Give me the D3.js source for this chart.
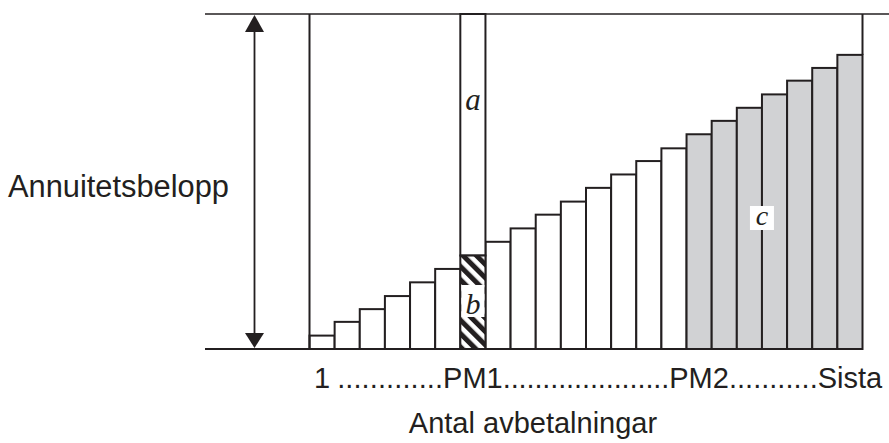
<!DOCTYPE html>
<html>
<head>
<meta charset="utf-8">
<script src="https://cdn.jsdelivr.net/npm/d3@7"></script>
<style>
  body { margin: 0; background: #fff; }
  svg { display: block; }
</style>
</head>
<body>
<div id="chart"></div>
<script>
// principal part of every payment, in % of the annuity amount
const principal = [4.0, 8.1, 11.9, 15.8, 19.9, 23.9, 27.9, 32.0, 36.0, 40.1, 44.0,
                   48.1, 52.1, 56.1, 59.9, 64.1, 68.1, 72.0, 76.0, 80.1, 83.9, 87.8];
const annuity = 100;
const pm1 = 6;   // bar split into a (interest) and b (principal)
const pm2 = 15;  // grey bars c from here to the last one
const tickIndex = [0, 6, 15, 21];
const tickLabels = ['1', 'PM1', 'PM2', 'Sista'];
const dotCounts = [13, 21, 11];

const width = 889, height = 443;
const ink = '#231f20';
const grey = '#d1d2d4';
const sans = '"Liberation Sans", Arial, Helvetica, sans-serif';
const serif = '"Liberation Serif", "Times New Roman", serif';

const svg = d3.select('#chart').append('svg')
    .attr('width', width)
    .attr('height', height);

const x = d3.scaleBand()
    .domain(principal.map((d, i) => i))
    .range([309.5, 862.5])
    .padding(0);

const y = d3.scaleLinear()
    .domain([0, annuity])
    .range([349, 14]);

const bw = x.bandwidth();

// hatch for part b
const defs = svg.append('defs');
const pat = defs.append('pattern')
    .attr('id', 'hatch')
    .attr('patternUnits', 'userSpaceOnUse')
    .attr('width', 9.5)
    .attr('height', 9.5)
    .attr('patternTransform', 'translate(460,256) rotate(-45)');
pat.append('rect').attr('width', 9.5).attr('height', 9.5).attr('fill', '#fff');
pat.append('rect').attr('width', 5).attr('height', 9.5).attr('fill', ink);

// top line = annuity amount
svg.append('line')
    .attr('x1', 205).attr('x2', width)
    .attr('y1', y(annuity)).attr('y2', y(annuity))
    .attr('stroke', ink).attr('stroke-width', 1.6);

// ordinary bars
svg.selectAll('.bar')
    .data(principal.map((v, i) => ({v, i})).filter(d => d.i !== pm1))
    .join('rect')
    .attr('class', 'bar')
    .attr('x', d => x(d.i))
    .attr('y', d => y(d.v))
    .attr('width', bw)
    .attr('height', d => y(0) - y(d.v))
    .attr('fill', d => d.i >= pm2 ? grey : '#fff')
    .attr('stroke', ink)
    .attr('stroke-width', 2);

// PM1: a on top, b hatched below
svg.append('rect')
    .attr('x', x(pm1)).attr('y', y(annuity))
    .attr('width', bw).attr('height', y(principal[pm1]) - y(annuity))
    .attr('fill', '#fff').attr('stroke', ink).attr('stroke-width', 2);
svg.append('rect')
    .attr('x', x(pm1)).attr('y', y(principal[pm1]))
    .attr('width', bw).attr('height', y(0) - y(principal[pm1]))
    .attr('fill', 'url(#hatch)').attr('stroke', ink).attr('stroke-width', 2);

// first and last payment reach the annuity line
svg.append('line')
    .attr('x1', x(0)).attr('x2', x(0))
    .attr('y1', y(0)).attr('y2', y(annuity))
    .attr('stroke', ink).attr('stroke-width', 2);
svg.append('line')
    .attr('x1', x(principal.length - 1) + bw).attr('x2', x(principal.length - 1) + bw)
    .attr('y1', y(principal[principal.length - 1])).attr('y2', y(annuity))
    .attr('stroke', ink).attr('stroke-width', 2);

// baseline
svg.append('line')
    .attr('x1', 205).attr('x2', x(principal.length - 1) + bw)
    .attr('y1', y(0)).attr('y2', y(0))
    .attr('stroke', ink).attr('stroke-width', 2.2);

// double arrow
const ax = 254.5;
svg.append('line')
    .attr('x1', ax).attr('x2', ax)
    .attr('y1', y(annuity) + 10).attr('y2', y(0) - 10)
    .attr('stroke', ink).attr('stroke-width', 1.8);
svg.append('path')
    .attr('d', `M${ax},${y(annuity) + 1}L${ax - 9.5},${y(annuity) + 18}L${ax + 9.5},${y(annuity) + 18}Z`)
    .attr('fill', ink);
svg.append('path')
    .attr('d', `M${ax},${y(0) - 1}L${ax - 9.5},${y(0) - 16}L${ax + 9.5},${y(0) - 16}Z`)
    .attr('fill', ink);

// letter labels
const pmx = x(pm1) + bw / 2;
svg.append('text')
    .attr('x', pmx).attr('y', 110)
    .attr('text-anchor', 'middle')
    .style('font-family', serif).style('font-style', 'italic').style('font-size', '31px')
    .attr('fill', ink)
    .text('a');

svg.append('rect')
    .attr('x', x(pm1) + 1).attr('y', 285)
    .attr('width', bw - 2).attr('height', 32)
    .attr('fill', '#fff');
svg.append('text')
    .attr('x', pmx).attr('y', 314)
    .attr('text-anchor', 'middle')
    .style('font-family', serif).style('font-style', 'italic').style('font-size', '30px')
    .attr('fill', ink)
    .text('b');

const cx = x(18);
svg.append('rect')
    .attr('x', cx - 12).attr('y', 206)
    .attr('width', 24).attr('height', 24)
    .attr('fill', '#fff');
svg.append('text')
    .attr('x', cx).attr('y', 225)
    .attr('text-anchor', 'middle')
    .style('font-family', serif).style('font-style', 'italic').style('font-size', '28px')
    .attr('fill', ink)
    .text('c');

// y title
svg.append('text')
    .attr('x', 8).attr('y', 197)
    .style('font-family', sans).style('font-size', '31px')
    .attr('fill', ink)
    .attr('textLength', 221).attr('lengthAdjust', 'spacingAndGlyphs')
    .text('Annuitetsbelopp');

// x tick labels with dotted fillers
const ticks = svg.selectAll('.tick')
    .data(tickLabels)
    .join('text')
    .attr('class', 'tick')
    .attr('x', (d, k) => x(tickIndex[k]) + bw / 2)
    .attr('y', 388)
    .attr('text-anchor', 'middle')
    .style('font-family', sans).style('font-size', '29px')
    .attr('fill', ink)
    .text(d => d);

const boxes = ticks.nodes().map(n => n.getBBox());
dotCounts.forEach((n, k) => {
    const x0 = boxes[k].x + boxes[k].width + (k === 0 ? 7 : 0);
    const x1 = boxes[k + 1].x;
    svg.append('text')
        .attr('x', x0).attr('y', 388)
        .style('font-family', sans).style('font-size', '29px')
        .attr('fill', ink)
        .attr('textLength', x1 - x0).attr('lengthAdjust', 'spacing')
        .text('.'.repeat(n));
});

// x title
svg.append('text')
    .attr('x', 533).attr('y', 433)
    .attr('text-anchor', 'middle')
    .style('font-family', sans).style('font-size', '29px')
    .attr('fill', ink)
    .text('Antal avbetalningar');
</script>
</body>
</html>
